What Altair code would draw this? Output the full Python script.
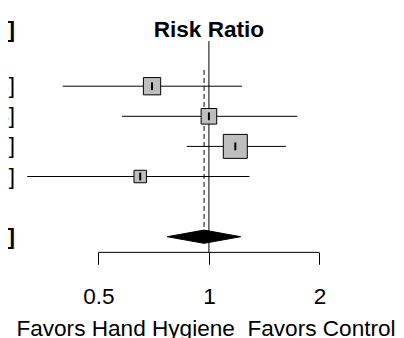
import altair as alt
import pandas as pd

# ---- data ----
rows = [4, 3, 2, 1]
est = [0.70, 1.00, 1.18, 0.65]
lower = [0.40, 0.58, 0.87, 0.32]
upper = [1.23, 1.74, 1.62, 1.29]
weights = [23.5, 19.1, 45.2, 12.2]

pooled_row = -1
pooled_est = 0.97
pooled_lower = 0.77
pooled_upper = 1.22

tick_values = [0.5, 1, 2]
header_left = "RR [95% C.I.]"
header_mid = "Risk Ratio"
x_title = "Favors Hand Hygiene\u00a0 Favors Control"

FONT = "Liberation Sans"
FS = 22.6

labels = [f"{e:.2f} [{l:.2f}, {u:.2f}]" for e, l, u in zip(est, lower, upper)]
pooled_label = f"{pooled_est:.2f} [{pooled_lower:.2f}, {pooled_upper:.2f}]"

studies = pd.DataFrame({"row": rows, "est": est, "lower": lower,
                        "upper": upper, "weight": weights, "label": labels})
pooled = pd.DataFrame({"row": [pooled_row], "label": [pooled_label]})

# diamond outline built from the pooled estimate and its interval
half = 0.22
diamond = pd.DataFrame({
    "x": [pooled_lower, pooled_est, pooled_upper],
    "y": [pooled_row, pooled_row + half, pooled_row],
    "y2": [pooled_row, pooled_row - half, pooled_row],
})

axis_row = -1.52
ref = pd.DataFrame({"x": [1.0], "top": [5.5], "bottom": [axis_row]})
dash = pd.DataFrame({"x": [pooled_est], "top": [4.54], "bottom": [-0.75]})
axis_line = pd.DataFrame({"x": [min(tick_values)], "x2": [max(tick_values)], "y": [axis_row]})
head = pd.DataFrame({"x": [1.0], "t": [header_mid]})

xscale = alt.Scale(type="log", base=2, domain=[0.2837, 3.232], nice=False)
yscale = alt.Scale(domain=[-4.365, 6.598], nice=False, zero=False)

xaxis = alt.Axis(values=tick_values, format="~g", orient="bottom", offset=-85.7,
                 domain=False, grid=False, ticks=True, tickSize=12, tickColor="black",
                 tickWidth=1, labelFontSize=FS, labelFont=FONT, labelColor="black",
                 labelPadding=39, labelBaseline="alphabetic", labelFlush=False,
                 labelOverlap=False, title=x_title, titleFontSize=FS, titleFont=FONT,
                 titleFontWeight="normal", titleColor="black", titleX=197.5, titleY=83.4,
                 titleBaseline="alphabetic", titleAlign="center")

Y = lambda f: alt.Y(f, scale=yscale, axis=None)

ci = alt.Chart(studies).mark_rule(color="black", strokeWidth=1).encode(
    x=alt.X("lower:Q", scale=xscale, axis=xaxis), x2="upper:Q", y=Y("row:Q"))

boxes = alt.Chart(studies).mark_square(filled=True, fill="#bebebe", stroke="black",
                                       strokeWidth=1, opacity=1).encode(
    x=alt.X("est:Q", scale=xscale, axis=None), y=Y("row:Q"),
    size=alt.Size("weight:Q", scale=alt.Scale(domain=[0, 45.2], range=[0, 576]), legend=None))

centre = alt.Chart(studies).transform_calculate(
    a="datum.row - 0.13", b="datum.row + 0.13").mark_rule(color="black", strokeWidth=2).encode(
    x=alt.X("est:Q", scale=xscale, axis=None), y=Y("a:Q"), y2="b:Q")

refline = alt.Chart(ref).mark_rule(color="black", strokeWidth=1).encode(
    x=alt.X("x:Q", scale=xscale, axis=None), y=Y("top:Q"), y2="bottom:Q")

dashed = alt.Chart(dash).mark_rule(color="black", strokeWidth=1, strokeDash=[5, 3]).encode(
    x=alt.X("x:Q", scale=xscale, axis=None), y=Y("top:Q"), y2="bottom:Q")

domain_line = alt.Chart(axis_line).mark_rule(color="black", strokeWidth=1).encode(
    x=alt.X("x:Q", scale=xscale, axis=None), x2="x2:Q", y=Y("y:Q"))

poly = alt.Chart(diamond).mark_area(color="black", opacity=1, stroke="black", strokeWidth=1).encode(
    x=alt.X("x:Q", scale=xscale, axis=None), y=Y("y:Q"), y2="y2:Q")

row_text = alt.Chart(studies).mark_text(align="right", baseline="middle", font=FONT,
                                        fontSize=FS, color="black").encode(
    x=alt.value(7), y=Y("row:Q"), text="label:N")

pooled_text = alt.Chart(pooled).mark_text(align="right", baseline="middle", font=FONT,
                                          fontSize=FS, fontWeight="bold", color="black").encode(
    x=alt.value(7), y=Y("row:Q"), text="label:N")

head_left = alt.Chart(head).mark_text(align="right", baseline="alphabetic", font=FONT,
                                      fontSize=FS, fontWeight="bold", color="black",
                                      text=header_left).encode(
    x=alt.value(7), y=alt.value(28.7))

head_mid = alt.Chart(head).mark_text(align="center", baseline="alphabetic", font=FONT,
                                     fontSize=FS, fontWeight="bold", color="black").encode(
    x=alt.X("x:Q", scale=xscale, axis=None), y=alt.value(28.7), text="t:N")

chart = alt.layer(ci, refline, dashed, boxes, centre, poly, domain_line,
                  row_text, pooled_text, head_left, head_mid).resolve_axis(
    x="independent", y="independent").properties(
    width=388, height=330, padding=0,
    autosize=alt.AutoSizeParams(type="none"),
    background="white",
).configure_view(stroke=None)

chart.save("out.html", embed_options={"renderer": "svg", "actions": False})
